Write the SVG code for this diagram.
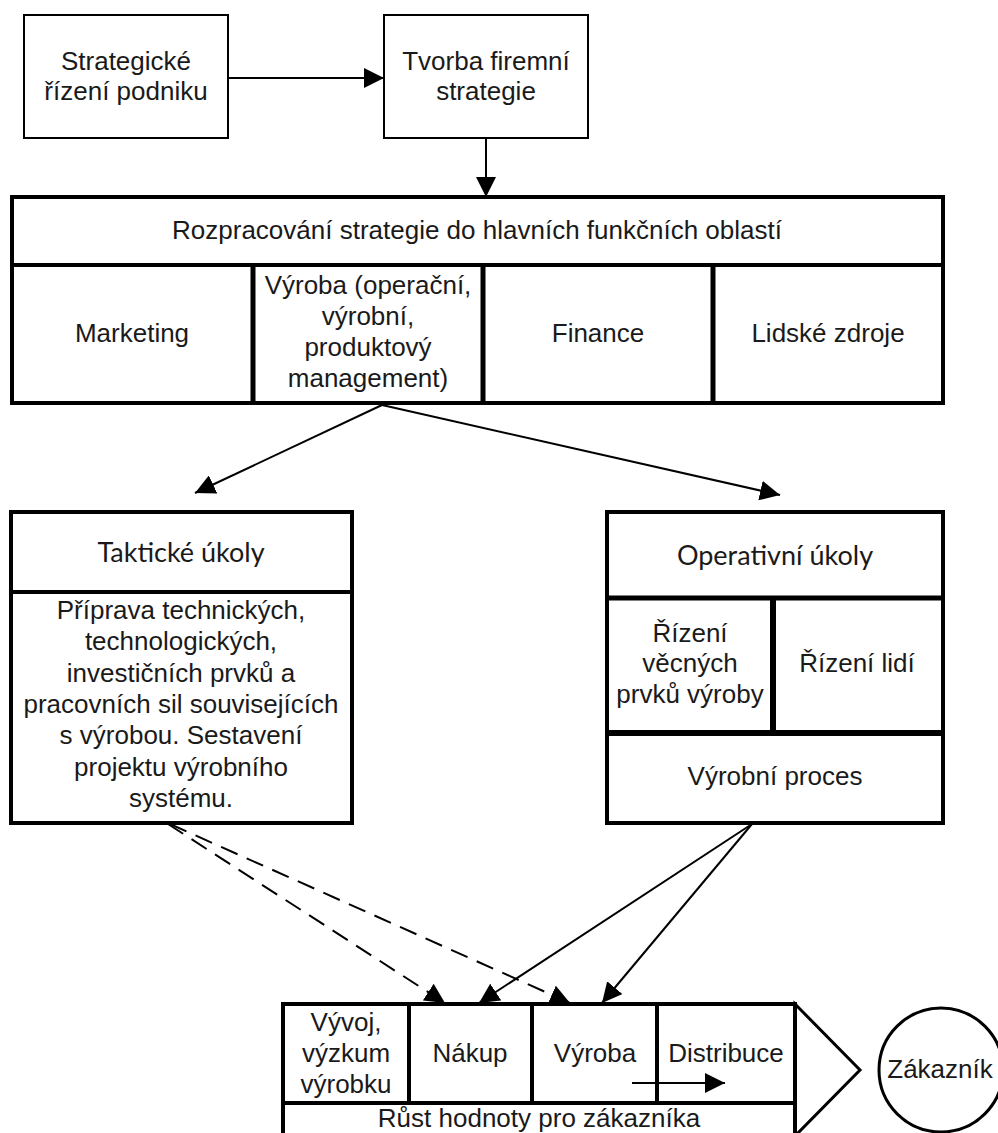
<svg xmlns="http://www.w3.org/2000/svg" width="998" height="1133" viewBox="0 0 998 1133">
  <defs>
    <marker id="arrow" markerUnits="userSpaceOnUse" markerWidth="20" markerHeight="20" refX="20" refY="10" orient="auto" viewBox="0 0 20 20">
      <path d="M0,0 L20,10 L0,20 Z" fill="#000"/>
    </marker>
    <style>
      .box { fill: #fff; stroke: #000; stroke-width: 2; }
      .frame { fill: #fff; stroke: #000; stroke-width: 4; }
      .div { stroke: #000; stroke-width: 4; fill: none; }
      .divb { stroke: #000; stroke-width: 5; fill: none; }
      .t { font-family: "Liberation Sans", Arial, sans-serif; font-size: 26px; fill: #1a1a1a; text-anchor: middle; }
      .h { font-family: Lato, "Open Sans", sans-serif; font-size: 27px; fill: #1a1a1a; text-anchor: middle; }
      .con { stroke: #000; stroke-width: 2; fill: none; marker-end: url(#arrow); }
      .dash { stroke-dasharray: 18 10; }
    </style>
  </defs>
  <rect width="998" height="1133" fill="#fff"/>

  <!-- top level boxes -->
  <g id="strategicke-rizeni">
    <rect class="box" x="24" y="15" width="204" height="123"/>
    <text class="t" x="126" y="70">Strategické</text>
    <text class="t" x="126" y="100">řízení podniku</text>
  </g>
  <g id="tvorba-strategie">
    <rect class="box" x="384" y="15" width="204" height="123"/>
    <text class="t" x="486" y="70">Tvorba firemní</text>
    <text class="t" x="486" y="100">strategie</text>
  </g>

  <!-- functional areas -->
  <g id="funkcni-oblasti">
    <rect class="frame" x="12" y="197" width="931" height="206"/>
    <line class="div" x1="12" y1="265" x2="943" y2="265"/>
    <line class="divb" x1="253" y1="265" x2="253" y2="403"/>
    <line class="divb" x1="483" y1="265" x2="483" y2="403"/>
    <line class="divb" x1="713" y1="265" x2="713" y2="403"/>
    <text class="t" x="477" y="239">Rozpracování strategie do hlavních funkčních oblastí</text>
    <text class="t" x="132" y="342">Marketing</text>
    <text class="t" x="368" y="294">Výroba (operační,</text>
    <text class="t" x="368" y="325">výrobní,</text>
    <text class="t" x="368" y="356">produktový</text>
    <text class="t" x="368" y="387">management)</text>
    <text class="t" x="598" y="342">Finance</text>
    <text class="t" x="828" y="342">Lidské zdroje</text>
  </g>

  <!-- tactical tasks -->
  <g id="takticke-ukoly">
    <rect class="frame" x="11" y="512" width="341" height="311"/>
    <line class="div" x1="11" y1="592" x2="352" y2="592"/>
    <text class="h" x="181" y="562">Taktické úkoly</text>
    <text class="t" x="181" y="619">Příprava technických,</text>
    <text class="t" x="181" y="650">technologických,</text>
    <text class="t" x="181" y="682">investičních prvků a</text>
    <text class="t" x="181" y="713">pracovních sil souvisejících</text>
    <text class="t" x="181" y="744">s výrobou. Sestavení</text>
    <text class="t" x="181" y="776">projektu výrobního</text>
    <text class="t" x="181" y="807">systému.</text>
  </g>

  <!-- operational tasks -->
  <g id="operativni-ukoly">
    <rect class="frame" x="607" y="512" width="336" height="311"/>
    <line class="divb" x1="607" y1="598" x2="943" y2="598"/>
    <line class="divb" x1="607" y1="733" x2="943" y2="733" style="stroke-width:6"/>
    <line class="divb" x1="773" y1="598" x2="773" y2="733" style="stroke-width:6"/>
    <text class="h" x="775" y="565">Operativní úkoly</text>
    <text class="t" x="690" y="642">Řízení</text>
    <text class="t" x="690" y="672">věcných</text>
    <text class="t" x="690" y="703">prvků výroby</text>
    <text class="t" x="857" y="672">Řízení lidí</text>
    <text class="t" x="775" y="785">Výrobní proces</text>
  </g>

  <!-- value chain -->
  <g id="hodnotovy-retezec">
    <polygon points="795,1004 860,1070 795,1136" fill="#fff" stroke="#000" stroke-width="3"/>
    <rect class="frame" x="283" y="1004" width="512" height="140"/>
    <line class="div" x1="283" y1="1103" x2="795" y2="1103"/>
    <line class="div" x1="409" y1="1004" x2="409" y2="1103"/>
    <line class="div" x1="532" y1="1004" x2="532" y2="1103"/>
    <line class="div" x1="657" y1="1004" x2="657" y2="1103"/>
    <text class="t" x="346" y="1031">Vývoj,</text>
    <text class="t" x="346" y="1062">výzkum</text>
    <text class="t" x="346" y="1093">výrobku</text>
    <text class="t" x="470" y="1062">Nákup</text>
    <text class="t" x="595" y="1062">Výroba</text>
    <text class="t" x="726" y="1062">Distribuce</text>
    <text class="t" x="539" y="1127">Růst hodnoty pro zákazníka</text>
  </g>

  <g id="zakaznik">
    <circle cx="941" cy="1070" r="62" fill="#fff" stroke="#000" stroke-width="3"/>
    <text class="t" x="940" y="1078">Zákazník</text>
  </g>

  <!-- connectors -->
  <g id="connectors">
    <line class="con" x1="228" y1="78" x2="384" y2="78"/>
    <line class="con" x1="486" y1="138" x2="486" y2="197"/>
    <line class="con" x1="382" y1="405" x2="195" y2="493"/>
    <line class="con" x1="382" y1="405" x2="780" y2="495"/>
    <line class="con dash" x1="168" y1="824" x2="445" y2="1003"/>
    <line class="con dash" x1="170" y1="824" x2="570" y2="1003"/>
    <line class="con" x1="752" y1="824" x2="479" y2="1003"/>
    <line class="con" x1="752" y1="824" x2="602" y2="1003"/>
    <line class="con" x1="632" y1="1083" x2="725" y2="1083"/>
  </g>
</svg>
